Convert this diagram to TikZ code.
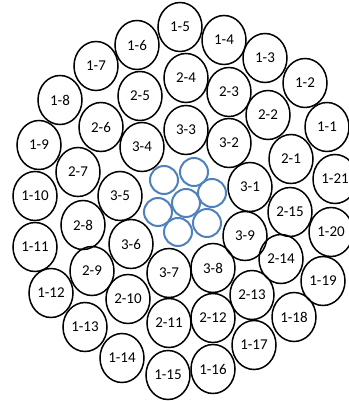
\documentclass[tikz,border=0pt]{standalone}
\usepackage{fontspec}
\setmainfont{Carlito}
\usetikzlibrary{shapes.geometric}
\definecolor{strandblue}{RGB}{79,129,189}

\begin{document}
\begin{tikzpicture}[x=1pt,y=-1pt]
	\tikzset{font=\fontsize{15}{17}\selectfont}
	\tikzset{wire/.style = {shape=ellipse,draw,line width=1.5pt,inner sep=0pt,
			minimum width=44pt,minimum height=49pt}}
	\tikzset{core/.style = {shape=circle,draw=strandblue,line width=2pt,
			minimum size=28pt,inner sep=0pt}}
	\useasboundingbox (0,0) rectangle (348,401);
	% core strands
	\node[core] (c0) at (186,203) {};
	\node[core] (c1) at (194,172) {};
	\node[core] (c2) at (164,180) {};
	\node[core] (c3) at (158,212) {};
	\node[core] (c4) at (178,232) {};
	\node[core] (c5) at (207,223) {};
	\node[core] (c6) at (212,193) {};
	% layer 3
	\node[wire] (w3-1) at (250,187) {3-1};
	\node[wire] (w3-2) at (229,143) {3-2};
	\node[wire] (w3-3) at (186,130) {3-3};
	\node[wire] (w3-4) at (142,147) {3-4};
	\node[wire] (w3-5) at (120,196) {3-5};
	\node[wire] (w3-6) at (131,244) {3-6};
	\node[wire] (w3-7) at (169,273) {3-7};
	\node[wire] (w3-8) at (213,268) {3-8};
	\node[wire] (w3-9) at (245,236) {3-9};
	% layer 2
	\node[wire] (w2-1) at (291,159) {2-1};
	\node[wire] (w2-2) at (268,115) {2-2};
	\node[wire] (w2-3) at (229,92) {2-3};
	\node[wire] (w2-4) at (186,78) {2-4};
	\node[wire] (w2-5) at (140,96) {2-5};
	\node[wire] (w2-6) at (101,127) {2-6};
	\node[wire] (w2-7) at (78,172) {2-7};
	\node[wire] (w2-8) at (83,225) {2-8};
	\node[wire] (w2-9) at (92,271) {2-9};
	\node[wire] (w2-10) at (128,299) {2-10};
	\node[wire] (w2-11) at (169,323) {2-11};
	\node[wire] (w2-12) at (213,318) {2-12};
	\node[wire] (w2-13) at (252,295) {2-13};
	\node[wire] (w2-14) at (281,259) {2-14};
	\node[wire] (w2-15) at (290,212) {2-15};
	% layer 1
	\node[wire] (w1-1) at (327,127) {1-1};
	\node[wire] (w1-2) at (305,83) {1-2};
	\node[wire] (w1-3) at (265,58) {1-3};
	\node[wire] (w1-4) at (224,40) {1-4};
	\node[wire] (w1-5) at (180,27) {1-5};
	\node[wire] (w1-6) at (137,45) {1-6};
	\node[wire] (w1-7) at (96,66) {1-7};
	\node[wire] (w1-8) at (60,100) {1-8};
	\node[wire] (w1-9) at (39,145) {1-9};
	\node[wire] (w1-10) at (35,196) {1-10};
	\node[wire] (w1-11) at (35,247) {1-11};
	\node[wire] (w1-12) at (51,293) {1-12};
	\node[wire] (w1-13) at (85,327) {1-13};
	\node[wire] (w1-14) at (122,358) {1-14};
	\node[wire] (w1-15) at (168,375) {1-15};
	\node[wire] (w1-16) at (213,369) {1-16};
	\node[wire] (w1-17) at (254,345) {1-17};
	\node[wire] (w1-18) at (294,317) {1-18};
	\node[wire] (w1-19) at (323,281) {1-19};
	\node[wire] (w1-20) at (331,232) {1-20};
	\node[wire] (w1-21) at (335,179) {1-21};
\end{tikzpicture}
\end{document}
